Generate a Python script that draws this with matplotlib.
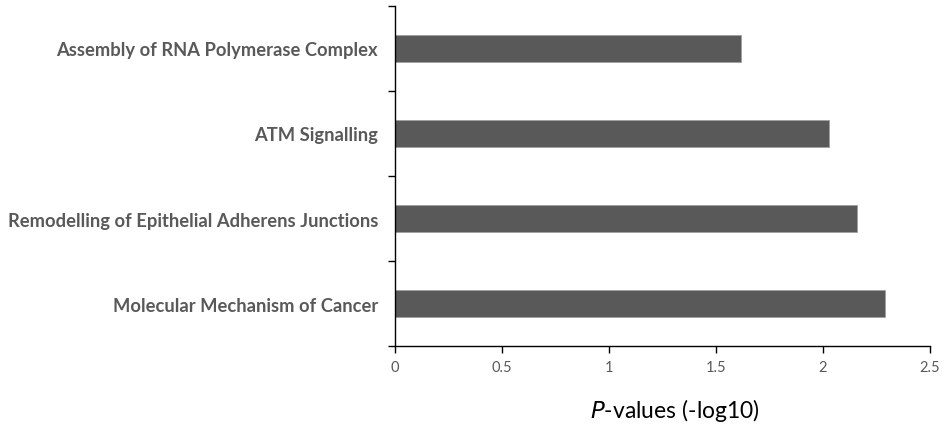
import matplotlib
matplotlib.use('Agg')
from matplotlib import pyplot as plt
import numpy as np

# pathways, top to bottom as shown
pathways = ['Assembly of RNA Polymerase Complex',
            'ATM Signalling',
            'Remodelling of Epithelial Adherens Junctions',
            'Molecular Mechanism of Cancer']
pvalues = [1.62, 2.03, 2.16, 2.29]

x_ticks = [0, 0.5, 1, 1.5, 2, 2.5]
x_ticklabels = ['0', '0.5', '1', '1.5', '2', '2.5']

plt.rcParams['font.family'] = ['Lato', 'DejaVu Sans']

fig = plt.figure(figsize=(9.44, 4.27), dpi=100)
ax = fig.add_axes([0.418, 0.187, 0.567, 0.797])

ypos = np.arange(len(pathways))[::-1]
ax.barh(ypos, pvalues, height=0.31, color='#595959', edgecolor='#a0a0a0', linewidth=0.6)

ax.set_xlim(0, 2.5)
ax.set_ylim(-0.5, len(pathways) - 0.5)
ax.set_xticks(x_ticks)
ax.set_xticklabels(x_ticklabels, fontsize=10.5, color='#595959')

# category labels without marks, boundary ticks as minor ticks
ax.set_yticks(ypos)
ax.set_yticklabels(pathways, fontsize=13.2, fontweight='bold', color='#595959')
ax.set_yticks(np.arange(-0.5, len(pathways), 1.0), minor=True)
ax.tick_params(axis='y', which='major', length=0, pad=12)
ax.tick_params(axis='y', which='minor', length=5, width=1, color='black', direction='out')
ax.tick_params(axis='x', length=5, width=1, direction='out', pad=5)

ax.spines['top'].set_visible(False)
ax.spines['right'].set_visible(False)
ax.spines['left'].set_linewidth(1)
ax.spines['bottom'].set_linewidth(1)

ax.set_xlabel('$\\it{P}$-values (-log10)', fontsize=16.5, color='black', labelpad=16, x=0.523)

plt.savefig('out.png', dpi=100)
